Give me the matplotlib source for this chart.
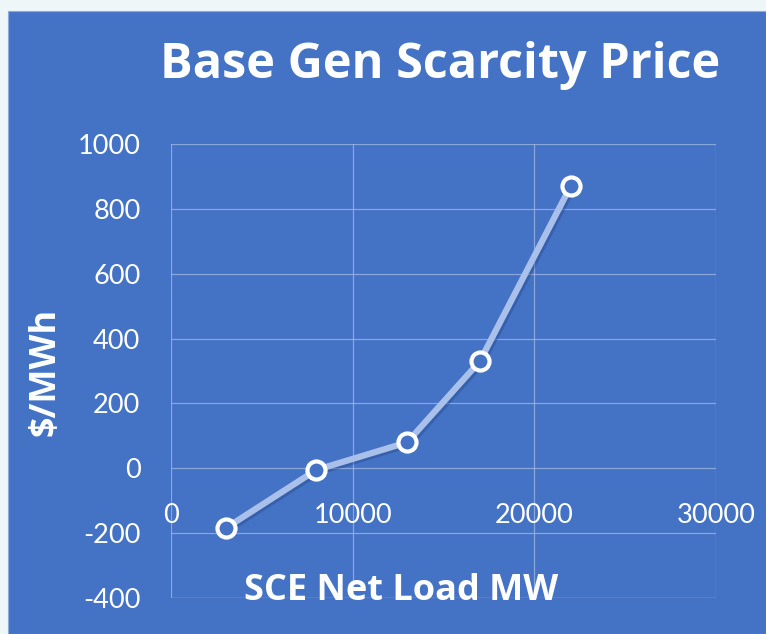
import matplotlib.pyplot as plt
import matplotlib.patheffects as pe
from matplotlib.patches import Rectangle

# values
net_load_mw = [3000, 8000, 13000, 17000, 22000]
price_per_mwh = [-185, -5, 80, 330, 870]
x_ticks = [0, 10000, 20000, 30000]
y_ticks = [-400, -200, 0, 200, 400, 600, 800, 1000]

plt.rcParams['font.family'] = ['Lato', 'DejaVu Sans']
plt.rcParams['axes.unicode_minus'] = False
panel_blue = '#4472C4'
bold_font = ['Open Sans', 'DejaVu Sans']

fig = plt.figure(figsize=(7.66, 6.34), dpi=100)
fig.patch.set_facecolor('#EEF6F8')
fig.patches.append(Rectangle((8 / 766, 0), 1 - 8 / 766, 1 - 11 / 634,
                             transform=fig.transFigure, facecolor=panel_blue,
                             edgecolor='#8FAADC', linewidth=0.8, zorder=0))

ax = fig.add_axes([171 / 766, 1 - 598 / 634, (716 - 171) / 766, (598 - 144) / 634])
ax.set_zorder(2)
ax.set_facecolor('none')
ax.set_xlim(0, 30000)
ax.set_ylim(-400, 1000)
ax.set_xticks(x_ticks)
ax.set_yticks(y_ticks)
ax.grid(True, color='#A3B9E4', linewidth=0.9, alpha=0.75)
ax.set_axisbelow(True)
for s in ax.spines.values():
    s.set_visible(False)
ax.spines['bottom'].set_position(('data', 0))

ax.tick_params(axis='y', length=0, pad=22, labelsize=19.5, labelcolor='white')
ax.tick_params(axis='x', length=0, pad=25, labelsize=19.5, labelcolor='white')
# bottom gridline frame
ax.axhline(-400, color='#A3B9E4', linewidth=0.9, alpha=0.75)

ax.plot(net_load_mw, price_per_mwh, color='#A9C0EA', linewidth=4.5,
        solid_capstyle='round', zorder=3,
        path_effects=[pe.SimpleLineShadow(offset=(1.5, -1.5), shadow_color='#1F3F80', alpha=0.35),
                      pe.Normal()])
ax.plot(net_load_mw, price_per_mwh, linestyle='none', marker='o', markersize=13,
        markerfacecolor=panel_blue, markeredgecolor='white', markeredgewidth=3, zorder=4)

fig.text(440 / 766, 1 - 66 / 634, 'Base Gen Scarcity Price', color='white',
         fontsize=35, fontweight='bold', ha='center', va='center', family=bold_font)
fig.text(46 / 766, 1 - 372 / 634, '$/MWh', color='white', fontsize=26,
         fontweight='bold', rotation=90, ha='center', va='center', family=bold_font)
fig.text(401 / 766, 1 - 591 / 634, 'SCE Net Load MW', color='white', fontsize=26,
         fontweight='bold', ha='center', va='center', family=bold_font)

fig.savefig('out.png', dpi=100, facecolor=fig.get_facecolor())
